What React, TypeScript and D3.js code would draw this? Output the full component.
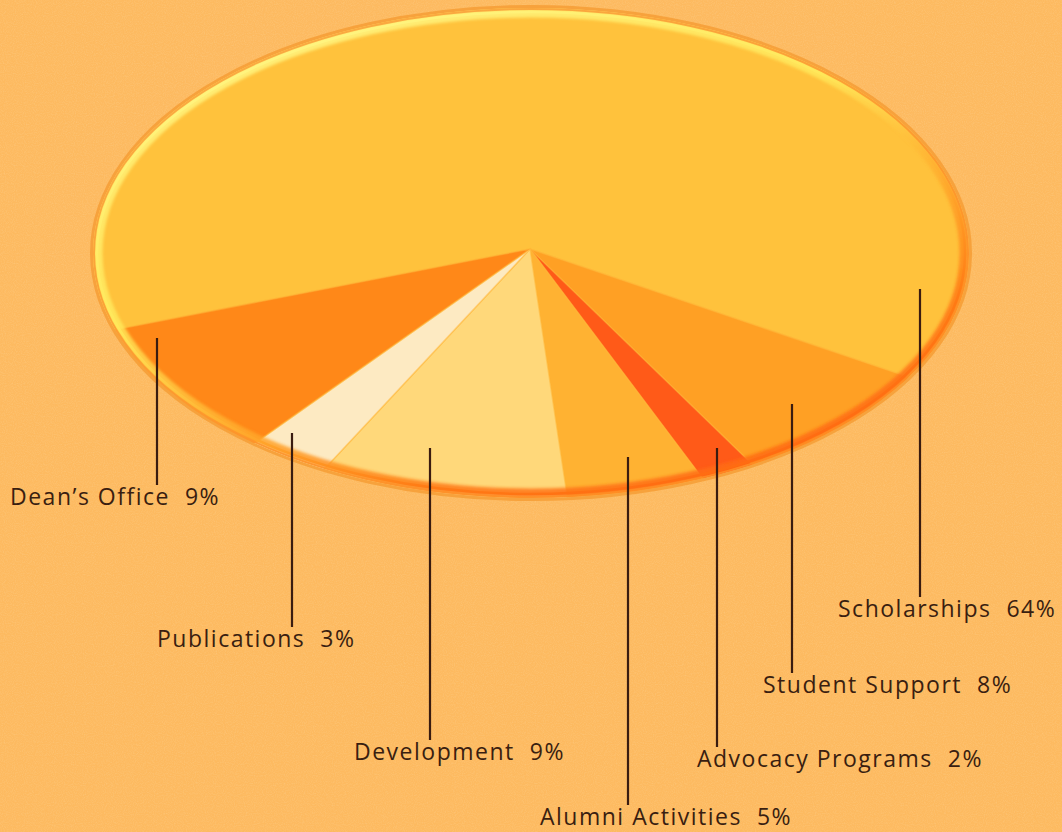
import React from 'react';
import * as d3 from 'd3';

// ---- data ----
const categories = ["Scholarships", "Student Support", "Advocacy Programs", "Alumni Activities", "Development", "Publications", "Dean\u2019s Office"];
const values = [64, 8, 2, 5, 9, 3, 9];
const percentLabels = ["64%", "8%", "2%", "5%", "9%", "3%", "9%"];

// ---- styles / layout ----
const sliceColors = ["#FFC23C", "#FFA024", "#FF5A18", "#FFB232", "#FFD87A", "#FDEAC2", "#FF8818"];
const labelX = [838, 763, 697, 540, 354, 157, 10];
const labelY = [617, 693, 767, 825, 760, 647, 505];
const leaderX = [920, 792, 717, 628, 430, 292, 157];
const leaderTop = [289, 404, 448, 457, 448, 433, 338];

const W = 1062, H = 832;
const cx = 531, cy = 253, rx = 438, ry = 245;
const pcx = 530, pcy = 249;
const startDeg = 250.8;

export default function App() {
  const start = (startDeg * Math.PI) / 180;
  const pie = d3.pie<number>().sort(null).value((d) => d).startAngle(start).endAngle(start + 2 * Math.PI);
  const arcs = pie(values);
  const arc = d3.arc<d3.PieArcDatum<number>>().innerRadius(0).outerRadius(rx + 12);
  const sy = ry / rx;

  return (
    <svg width={W} height={H} style={{ position: 'absolute', left: 0, top: 0 }} fontFamily="'Open Sans', Lato, sans-serif">
      <defs>
        <filter id="noise" x="0" y="0" width="100%" height="100%">
          <feTurbulence type="fractalNoise" baseFrequency="0.9" numOctaves="2" seed="3" result="t" />
          <feColorMatrix type="matrix" values="0 0 0 0 1  0 0 0 0 0.85  0 0 0 0 0.6  0 0 0 0.9 -0.35" />
        </filter>
        <clipPath id="ellClip">
          <ellipse cx={cx} cy={cy} rx={rx} ry={ry} />
        </clipPath>
        <linearGradient id="rimGrad" x1="0.15" y1="0" x2="0.8" y2="1">
          <stop offset="0" stopColor="#FFF88A" />
          <stop offset="0.4" stopColor="#FFE85A" />
          <stop offset="0.6" stopColor="#FFB030" />
          <stop offset="0.8" stopColor="#FF7A14" />
          <stop offset="1" stopColor="#FF6410" />
        </linearGradient>
        <linearGradient id="outerGrad" x1="0.15" y1="0" x2="0.8" y2="1">
          <stop offset="0" stopColor="#F9A640" />
          <stop offset="1" stopColor="#FF8A20" />
        </linearGradient>
        <filter id="soft" x="-5%" y="-5%" width="110%" height="110%">
          <feGaussianBlur stdDeviation="1.6" />
        </filter>
      </defs>

      <rect width={W} height={H} fill="#FDBA60" />
      <rect width={W} height={H} filter="url(#noise)" opacity={0.35} />

      {/* outer halo */}
      <ellipse cx={cx} cy={cy} rx={rx + 1.5} ry={ry + 1.5} fill="none" stroke="#F7A23C" strokeWidth={3} />

      <g clipPath="url(#ellClip)">
        <g transform={`translate(${pcx},${pcy}) scale(1,${sy})`}>
          {arcs.map((a, i) => (
            <path key={categories[i]} d={arc(a) || ''} fill={sliceColors[i]} stroke="#FFB838" strokeOpacity={0.5} strokeWidth={1.5} vectorEffect="non-scaling-stroke" />
          ))}
        </g>
        {/* bevel rim */}
        <ellipse cx={cx} cy={cy} rx={rx - 5} ry={ry - 5} fill="none" stroke="url(#rimGrad)" strokeWidth={9} opacity={0.85} filter="url(#soft)" />
        <ellipse cx={cx} cy={cy} rx={rx - 4} ry={ry - 4} fill="none" stroke="url(#rimGrad)" strokeWidth={2.5} opacity={0.95} />
        <ellipse cx={cx} cy={cy} rx={rx - 0.5} ry={ry - 0.5} fill="none" stroke="url(#outerGrad)" strokeWidth={3} opacity={0.9} />
      </g>

      {/* leader lines & labels */}
      {categories.map((c, i) => (
        <g key={c}>
          <line x1={leaderX[i]} x2={leaderX[i]} y1={leaderTop[i]} y2={labelY[i] - 20} stroke="#3A1C10" strokeWidth={2.2} />
          <text x={labelX[i]} y={labelY[i]} fontSize={23} letterSpacing={1.5} fill="#3A1E10">
            <tspan>{c}</tspan>
            <tspan dx={15}>{percentLabels[i]}</tspan>
          </text>
        </g>
      ))}
    </svg>
  );
}
